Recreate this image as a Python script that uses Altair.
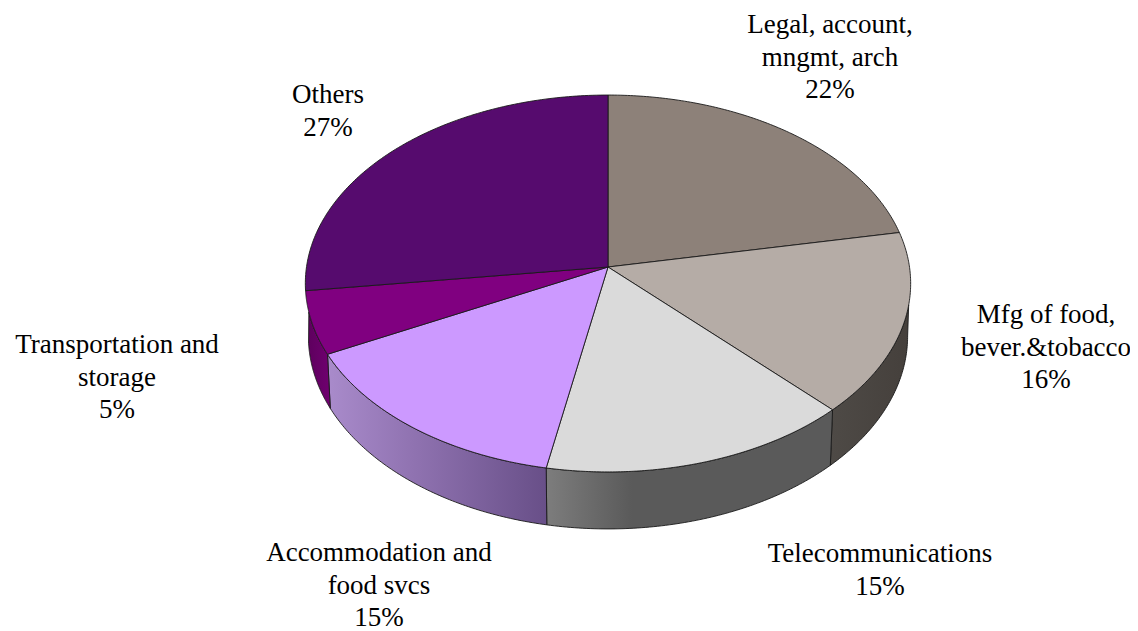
import numpy as np
import pandas as pd
import altair as alt

categories = ["Legal, account,\nmngmt, arch", "Mfg of food,\nbever.&tobacco", "Telecommunications",
              "Accommodation and\nfood svcs", "Transportation and\nstorage", "Others"]
shares = [22.0, 15.7, 15.3, 14.6, 5.4, 27.0]
shown_pct = ["22%", "16%", "15%", "15%", "5%", "27%"]
top_colors = ["#8D8179", "#B5ACA6", "#DADADA", "#CC99FF", "#800080", "#560B6E"]

CX, CY, RX, RY, K, DEPTH = 608, 267, 301.5, 187, 0.0875, 52
label_x = [830, 1046, 880, 379, 117, 328]
label_y = [25, 315, 554, 553, 345, 95]

wall_stops = {
    1: [(0, "#4E4A46"), (1, "#45403C")],
    2: [(0, "#7D7D7D"), (0.3, "#5A5A5A"), (1, "#5A5A5A")],
    3: [(0, "#A98BCB"), (0.4, "#8F72B0"), (1, "#684F88")],
    4: [(0, "#5E005E"), (1, "#700070")],
}
wall_limits_top = (0.282, 0.712)
wall_limits_bottom = (0.264, 0.736)


def pt(f, depth=0.0):
    t = 2 * np.pi * np.asarray(f)
    X, Y = np.sin(t), np.cos(t)
    s = 1 / (1 + K * Y)
    shrink = 1 - 0.01 * (depth > 0)
    return CX + RX * X * s * shrink, CY - RY * Y * s + depth * s


def polygon(xs, ys):
    xs, ys = list(xs), list(ys)
    xs.append(xs[0])
    ys.append(ys[0])
    return pd.DataFrame({"x": xs, "y": ys, "o": range(len(xs))})


x_enc = alt.X("x:Q", axis=None, scale=alt.Scale(domain=[8, 1130], nice=False, zero=False))
y_enc = alt.Y("y:Q", axis=None, scale=alt.Scale(domain=[631, 8], nice=False, zero=False))


def draw(df, fill):
    return alt.Chart(df).mark_line(fill=fill, stroke="#1a1a1a", strokeWidth=0.9, interpolate="linear",
                                   strokeJoin="round").encode(
        x=x_enc, y=y_enc, order="o:Q")


edges = np.concatenate([[0], np.cumsum(shares)]) / 100
layers = []

for i, stops in wall_stops.items():
    f_top = np.linspace(max(edges[i], wall_limits_top[0]), min(edges[i + 1], wall_limits_top[1]), 80)
    f_bot = np.linspace(max(edges[i], wall_limits_bottom[0]), min(edges[i + 1], wall_limits_bottom[1]), 80)
    tx, ty = pt(f_top)
    bx, by = pt(f_bot[::-1], DEPTH)
    grad = alt.LinearGradient(gradient="linear", x1=0, x2=1, y1=0, y2=0,
                              stops=[alt.GradientStop(offset=o, color=c) for o, c in stops])
    layers.append(draw(polygon(np.r_[tx, bx], np.r_[ty, by]), grad))

for i, color in enumerate(top_colors):
    f = np.linspace(edges[i], edges[i + 1], 120)
    ax, ay = pt(f)
    layers.append(draw(polygon(np.r_[CX, ax], np.r_[CY, ay]), color))

labels = pd.DataFrame({
    "x": label_x, "y": label_y,
    "t": [c + "\n" + p for c, p in zip(categories, shown_pct)],
})
text = alt.Chart(labels).mark_text(font="Liberation Serif", fontSize=27, lineHeight=32.5, lineBreak="\n",
                                   color="#000000", align="center", baseline="middle").encode(
    x=x_enc, y=y_enc, text="t:N")
layers.append(text)

chart = alt.layer(*layers).properties(
    width=1122, height=623, padding=0, autosize=alt.AutoSizeParams(type="none"),
    background="#ffffff").configure_view(stroke=None)

chart.save("out.html", embed_options={"renderer": "svg", "actions": False})
